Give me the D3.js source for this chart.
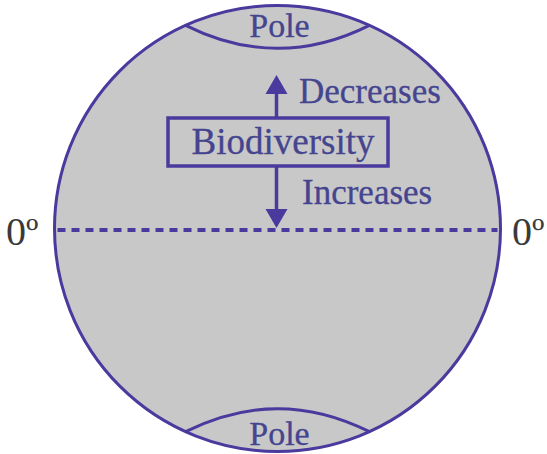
<!DOCTYPE html>
<html>
<head>
<meta charset="UTF-8" />
<script src="https://cdn.jsdelivr.net/npm/d3@7"></script>
<style>
  body { margin: 0; background: white; }
</style>
</head>
<body>
<div id="chart"></div>
<script>
// diagram content
const latitudes = [90, 0, -90];
const poleCapLat = [82, -82];          // latitude where the cap curve meets the circle
const poleLabels = ["Pole", "Pole"];
const equatorLabel = "0º";
const centerLabel = "Biodiversity";
const arrowLabels = ["Decreases", "Increases"];
const arrowTargets = [62, 0];          // latitude of arrow tips

const w = 547, h = 454;
const cx = 277.5, cy = 228.5, r = 223;
const stroke = "#4a3a9e", textCol = "#45458f";
const serif = "'Liberation Serif', 'Times New Roman', Tinos, 'DejaVu Serif', serif";

const yScale = d3.scaleLinear().domain([90, -90]).range([cy - r, cy + r]);

const svg = d3.select("#chart").append("svg").attr("width", w).attr("height", h)
  .attr("font-family", serif);

svg.append("circle")
  .attr("cx", cx).attr("cy", cy).attr("r", r)
  .attr("fill", "#c8c8c9").attr("stroke", stroke).attr("stroke-width", 3);

// pole caps
poleCapLat.forEach((lat, i) => {
  const y = yScale(lat);
  const dx = Math.sqrt(r * r - (y - cy) * (y - cy));
  const sign = lat > 0 ? 1 : -1;
  const ctrl = y + sign * 46;
  svg.append("path")
    .attr("d", `M${cx - dx},${y} Q${cx},${ctrl} ${cx + dx},${y}`)
    .attr("fill", "none").attr("stroke", stroke).attr("stroke-width", 3);
  svg.append("text")
    .attr("x", cx + 2).attr("y", lat > 0 ? 37 : 445)
    .attr("text-anchor", "middle").attr("font-size", 34)
    .attr("fill", textCol).attr("stroke", textCol).attr("stroke-width", 0.3)
    .text(poleLabels[i]);
});

// equator
const eqY = yScale(latitudes[1]) + 1.5;
svg.append("line")
  .attr("x1", cx - r + 3).attr("x2", cx + r - 3)
  .attr("y1", eqY).attr("y2", eqY)
  .attr("stroke", stroke).attr("stroke-width", 4)
  .attr("stroke-dasharray", "8,6");

svg.append("text").attr("x", 6).attr("y", 245)
  .attr("font-size", 40).attr("fill", "#3a3a3a").text(equatorLabel);
svg.append("text").attr("x", 512).attr("y", 245)
  .attr("font-size", 40).attr("fill", "#3a3a3a").text(equatorLabel);

// box
const ax = 276.5;
const boxTop = 118, boxBot = 166;
svg.append("rect")
  .attr("x", 168).attr("y", boxTop).attr("width", 220).attr("height", boxBot - boxTop)
  .attr("fill", "none").attr("stroke", stroke).attr("stroke-width", 3.5);
svg.append("text").attr("x", 283).attr("y", 154)
  .attr("text-anchor", "middle").attr("font-size", 37)
  .attr("fill", textCol).attr("stroke", textCol).attr("stroke-width", 0.3)
  .text(centerLabel);

// arrows
arrowTargets.forEach((lat, i) => {
  const tip = lat === 0 ? eqY - 2 : yScale(lat);
  const dir = i === 0 ? 1 : -1;  // 1: pointing up
  const start = i === 0 ? boxTop : boxBot;
  const base = tip + dir * 19;
  svg.append("line").attr("x1", ax).attr("x2", ax)
    .attr("y1", start).attr("y2", base)
    .attr("stroke", stroke).attr("stroke-width", 3.5);
  svg.append("path")
    .attr("d", `M${ax},${tip} L${ax - 11},${base} L${ax + 11},${base} Z`)
    .attr("fill", stroke);
  svg.append("text")
    .attr("x", i === 0 ? 299 : 302).attr("y", i === 0 ? 103 : 204)
    .attr("font-size", 35).attr("fill", textCol)
    .attr("stroke", textCol).attr("stroke-width", 0.3)
    .text(arrowLabels[i]);
});
</script>
</body>
</html>
